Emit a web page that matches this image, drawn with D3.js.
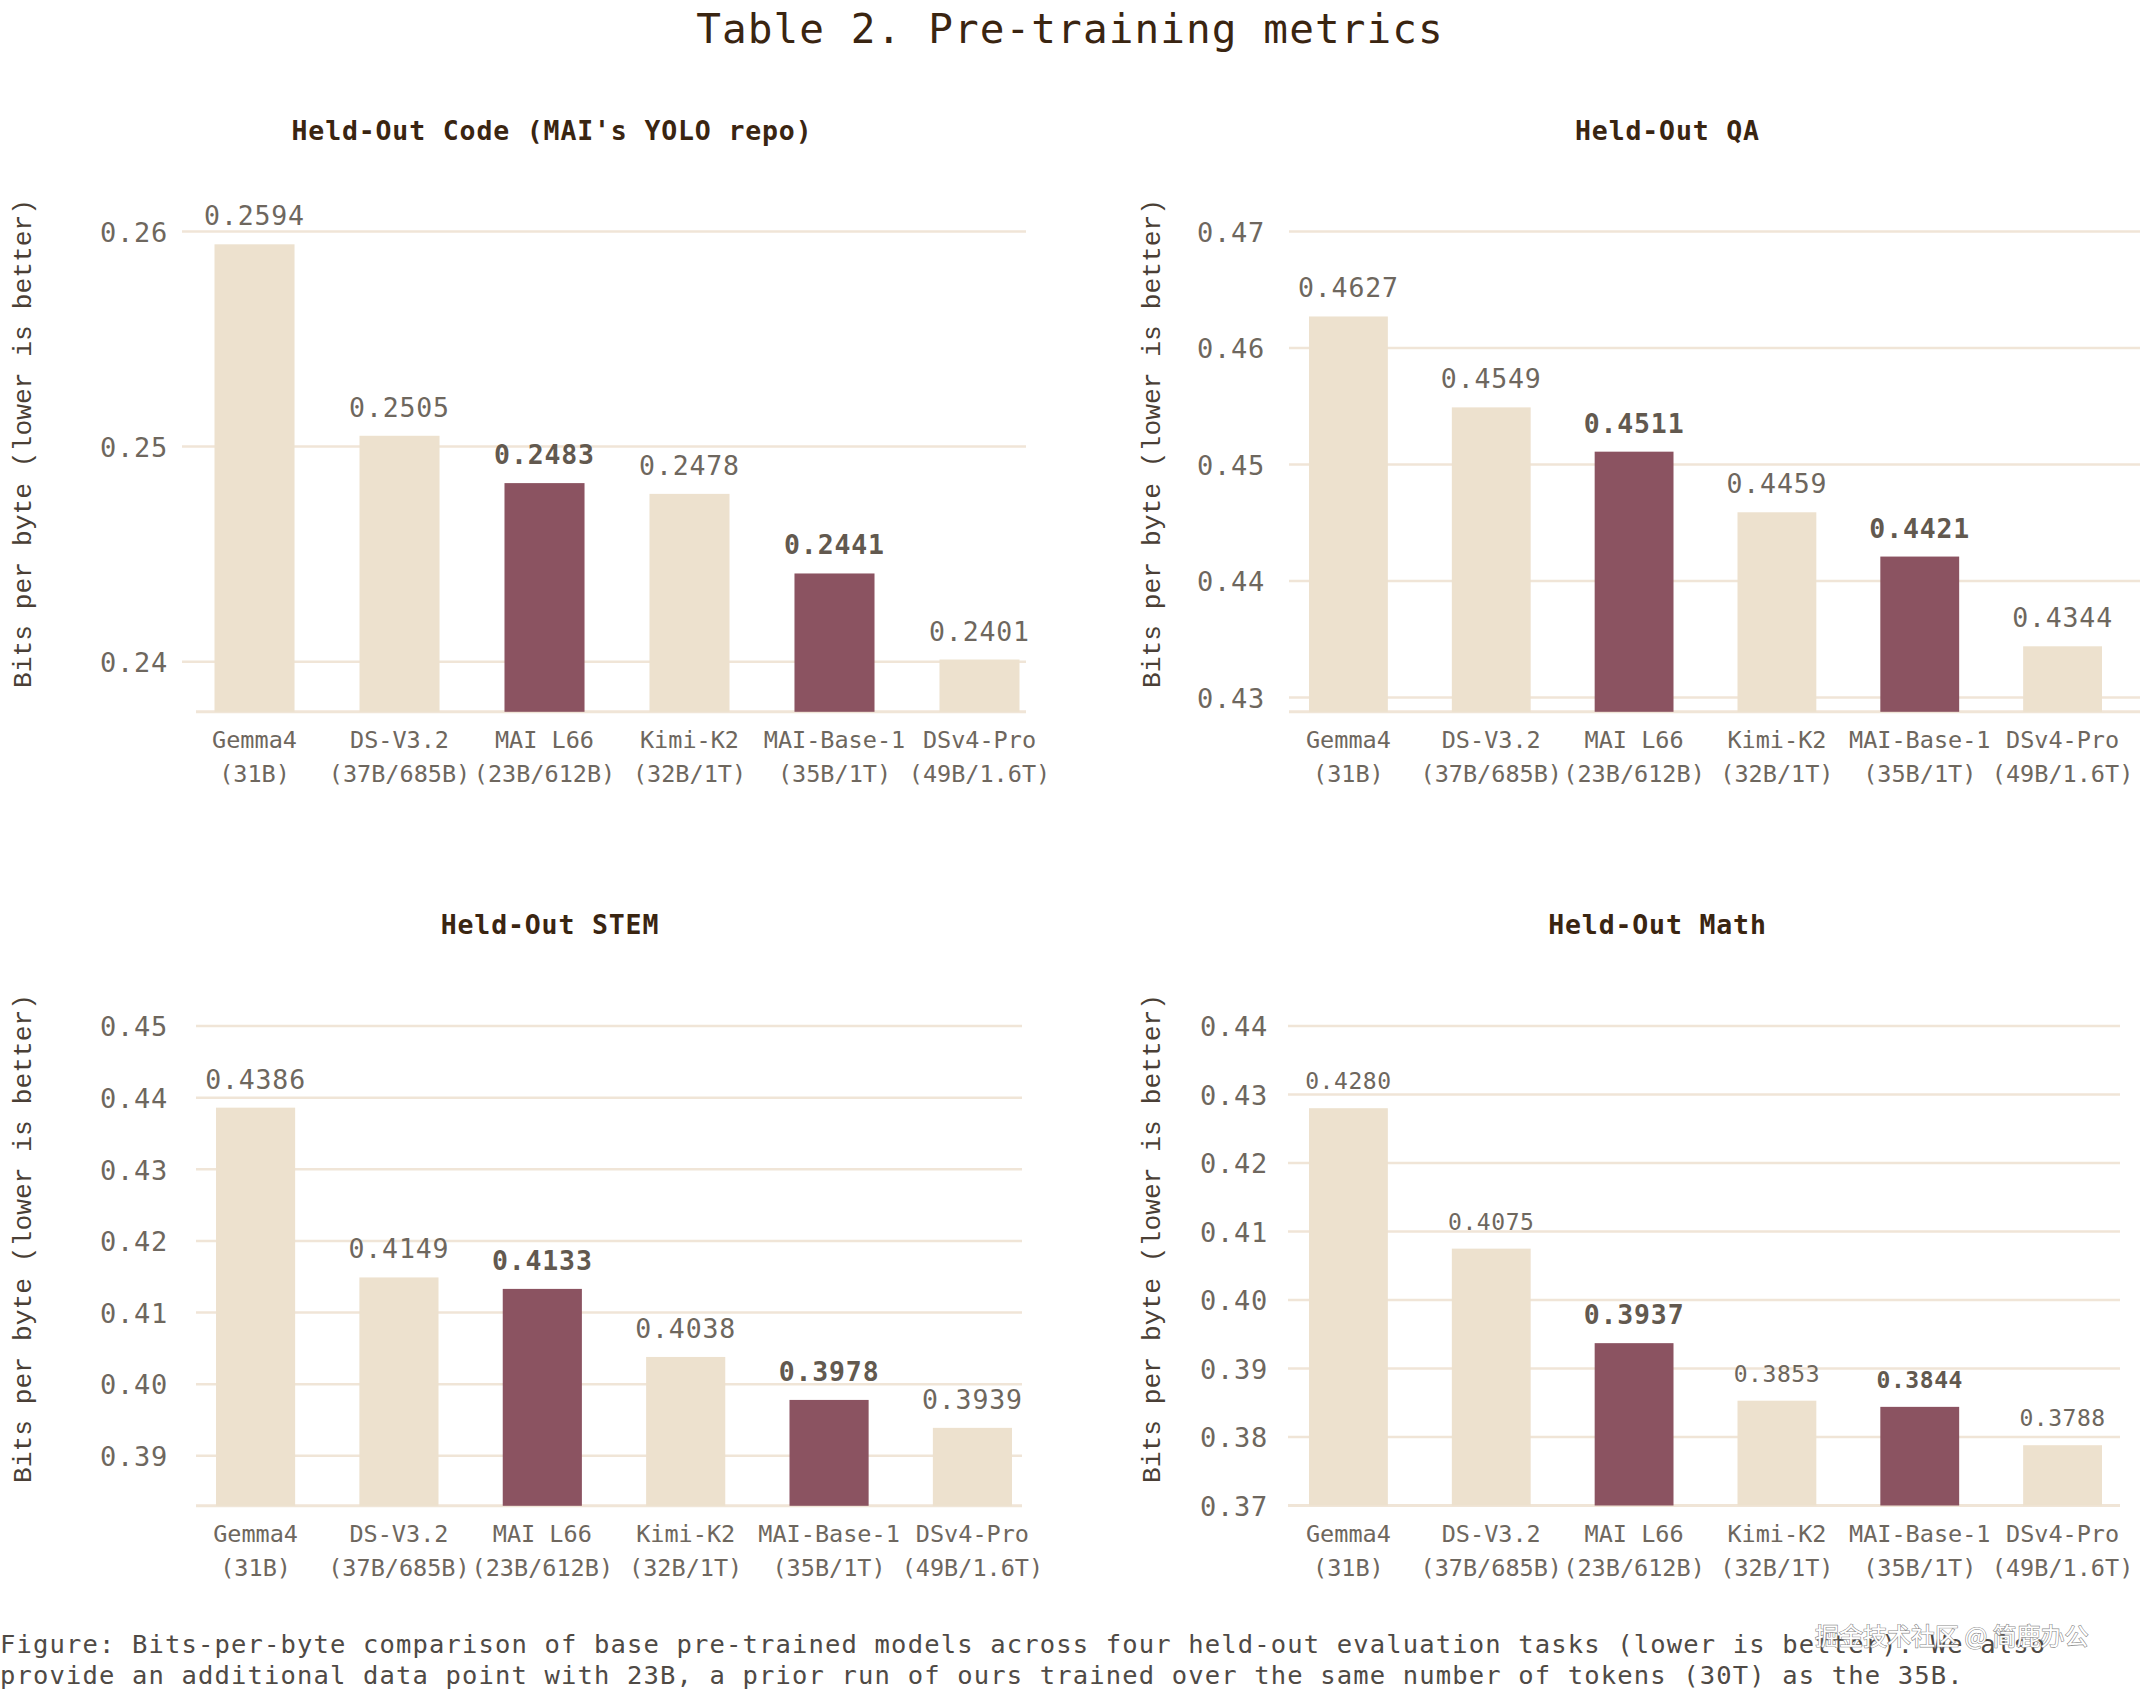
<!DOCTYPE html>
<html>
<head>
<meta charset="utf-8">
<script src="https://cdn.jsdelivr.net/npm/d3@7"></script>
<style>
  html, body { margin: 0; padding: 0; background: #ffffff; }
  svg { display: block; }
</style>
</head>
<body>
<svg id="chart" width="2140" height="1692"></svg>
<script>
// ---------------- data ----------------
const categories = ["Gemma4", "DS-V3.2", "MAI L66", "Kimi-K2", "MAI-Base-1", "DSv4-Pro"];
const categorySub = ["(31B)", "(37B/685B)", "(23B/612B)", "(32B/1T)", "(35B/1T)", "(49B/1.6T)"];
const highlighted = ["MAI L66", "MAI-Base-1"];

const codeValues = [0.2594, 0.2505, 0.2483, 0.2478, 0.2441, 0.2401];
const qaValues   = [0.4627, 0.4549, 0.4511, 0.4459, 0.4421, 0.4344];
const stemValues = [0.4386, 0.4149, 0.4133, 0.4038, 0.3978, 0.3939];
const mathValues = [0.4280, 0.4075, 0.3937, 0.3853, 0.3844, 0.3788];

const codeTicks = [0.24, 0.25, 0.26];
const qaTicks   = [0.43, 0.44, 0.45, 0.46, 0.47];
const stemTicks = [0.39, 0.40, 0.41, 0.42, 0.43, 0.44, 0.45];
const mathTicks = [0.37, 0.38, 0.39, 0.40, 0.41, 0.42, 0.43, 0.44];

const panelTitles = ["Held-Out Code (MAI's YOLO repo)", "Held-Out QA", "Held-Out STEM", "Held-Out Math"];
const yAxisLabel = "Bits per byte (lower is better)";
const mainTitle = "Table 2. Pre-training metrics";
const captionLines = [
  "Figure: Bits-per-byte comparison of base pre-trained models across four held-out evaluation tasks (lower is better). We also",
  "provide an additional data point with 23B, a prior run of ours trained over the same number of tokens (30T) as the 35B."
];
const watermark = "掘金技术社区 @ 简鹿办公";

// ---------------- layout / style ----------------
const MONO = "'DejaVu Sans Mono', monospace";
const C = {
  beige: "#ede1ce",
  maroon: "#8b5361",
  grid: "#f0e5d7",
  text: "#6e675e",
  textBold: "#62594f",
  title: "#3a2511",
  ylab: "#4a3f36"
};

const panels = [
  { values: codeValues, ticks: codeTicks, title: panelTitles[0], domain: [0.23767, 0.26],
    yRange: [711.8, 231.4], band: [214.5, 1019.5], grid: [182, 1026], base: [196, 1026],
    tickX: 168, titleX: 552, titleY: 140, ylabX: 31, ylabY: 443.5, small: false },
  { values: qaValues, ticks: qaTicks, title: panelTitles[1], domain: [0.42878, 0.47],
    yRange: [711.8, 231.4], band: [1309, 2102], grid: [1289, 2140], base: [1289, 2140],
    tickX: 1265, titleX: 1667.5, titleY: 140, ylabX: 1160, ylabY: 443.5, small: false },
  { values: stemValues, ticks: stemTicks, title: panelTitles[2], domain: [0.38302, 0.45],
    yRange: [1505.8, 1026], band: [216, 1012], grid: [196, 1022], base: [196, 1022],
    tickX: 168, titleX: 550, titleY: 934, ylabX: 31, ylabY: 1238.5, small: false },
  { values: mathValues, ticks: mathTicks, title: panelTitles[3], domain: [0.37, 0.44],
    yRange: [1505.5, 1026], band: [1309, 2102], grid: [1288, 2120], base: [1288, 2120],
    tickX: 1268, titleX: 1657.5, titleY: 934, ylabX: 1160, ylabY: 1238.5, small: true }
];

const svg = d3.select("#chart");
svg.append("rect").attr("width", 2140).attr("height", 1692).attr("fill", "#fff");

// main title
svg.append("text")
  .attr("x", 1070).attr("y", 43)
  .attr("text-anchor", "middle")
  .attr("font-family", MONO).attr("font-size", 41)
  .attr("letter-spacing", 1.1)
  .attr("fill", C.title)
  .text(mainTitle);

panels.forEach(p => {
  const g = svg.append("g");
  const x = d3.scaleBand().domain(categories).range(p.band).paddingInner(0.448).paddingOuter(0);
  const y = d3.scaleLinear().domain(p.domain).range(p.yRange);

  // subplot title
  g.append("text")
    .attr("x", p.titleX).attr("y", p.titleY)
    .attr("text-anchor", "middle")
    .attr("font-family", MONO).attr("font-weight", "bold")
    .attr("font-size", 26.5).attr("letter-spacing", 0.85)
    .attr("fill", C.title)
    .text(p.title);

  // gridlines
  g.selectAll(".grid").data(p.ticks).enter().append("line")
    .attr("x1", p.grid[0]).attr("x2", p.grid[1])
    .attr("y1", d => y(d)).attr("y2", d => y(d))
    .attr("stroke", C.grid).attr("stroke-width", 2.5);

  // y axis via d3 axis (labels only)
  const yAxis = d3.axisLeft(y).tickValues(p.ticks).tickFormat(d3.format(".2f")).tickSize(0).tickPadding(0);
  const ax = g.append("g").attr("transform", `translate(${p.tickX},0)`).call(yAxis);
  ax.select(".domain").remove();
  ax.selectAll("text")
    .attr("font-family", MONO).attr("font-size", 27).attr("letter-spacing", 0.75)
    .attr("fill", C.text).attr("dy", "0.36em");

  // baseline
  g.append("line")
    .attr("x1", p.base[0]).attr("x2", p.base[1])
    .attr("y1", p.yRange[0]).attr("y2", p.yRange[0])
    .attr("stroke", C.grid).attr("stroke-width", 3);

  // bars
  const rows = categories.map((c, i) => ({ c, v: p.values[i], hi: highlighted.includes(c) }));
  g.selectAll(".bar").data(rows).enter().append("rect")
    .attr("x", d => x(d.c)).attr("width", x.bandwidth())
    .attr("y", d => y(d.v)).attr("height", d => p.yRange[0] - y(d.v))
    .attr("fill", d => d.hi ? C.maroon : C.beige);

  // value labels
  g.selectAll(".val").data(rows).enter().append("text")
    .attr("x", d => x(d.c) + x.bandwidth() / 2)
    .attr("y", d => y(d.v) - 19)
    .attr("text-anchor", "middle")
    .attr("font-family", MONO)
    .attr("font-weight", d => d.hi ? "bold" : "normal")
    .attr("font-size", d => (p.small && d.c !== "MAI L66") ? 23 : 26.5)
    .attr("letter-spacing", d => (p.small && d.c !== "MAI L66") ? 0.55 : 0.85)
    .attr("fill", d => d.hi ? C.textBold : C.text)
    .text(d => d3.format(".4f")(d.v));

  // category labels (x axis)
  const xa = g.append("g").attr("transform", `translate(0,${p.yRange[0]})`);
  rows.forEach((d, i) => {
    const cx = x(d.c) + x.bandwidth() / 2;
    const t = xa.append("text")
      .attr("x", cx)
      .attr("text-anchor", "middle")
      .attr("font-family", MONO).attr("font-size", 23.5)
      .attr("fill", C.text);
    t.append("tspan").attr("x", cx).attr("y", 36.5).text(d.c);
    t.append("tspan").attr("x", cx).attr("y", 70.5).text(categorySub[i]);
  });

  // y axis label
  g.append("text")
    .attr("transform", `translate(${p.ylabX},${p.ylabY}) rotate(-90)`)
    .attr("text-anchor", "middle")
    .attr("font-family", "'Liberation Mono', monospace").attr("font-size", 26.3)
    .attr("fill", C.ylab)
    .text(yAxisLabel);
});

// caption
captionLines.forEach((line, i) => {
  svg.append("text")
    .attr("x", 0).attr("y", 1653 + i * 31)
    .attr("font-family", MONO).attr("font-size", 25.5)
    .attr("letter-spacing", 1.15)
    .attr("fill", "#4f4a45")
    .text(line);
});

// watermark
svg.append("text")
  .attr("x", 1815).attr("y", 1645)
  .attr("font-family", "'Noto Sans CJK SC', sans-serif").attr("font-size", 24)
  .attr("fill", "#ffffff").attr("stroke", "#8a8a8a").attr("stroke-width", 1.2)
  .attr("paint-order", "stroke")
  .text(watermark);
</script>
</body>
</html>
